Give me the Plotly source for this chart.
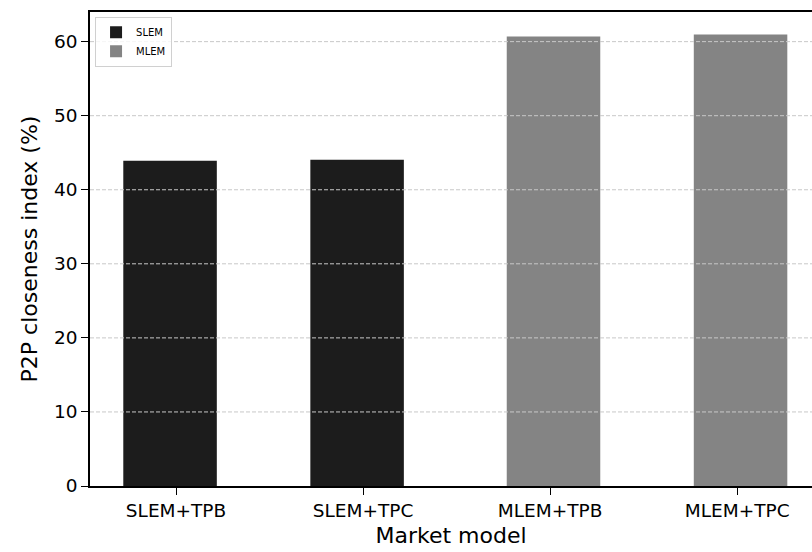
import plotly.graph_objects as go

slem_labels = ["SLEM+TPB", "SLEM+TPC"]
slem_values = [43.9, 44.05]
mlem_labels = ["MLEM+TPB", "MLEM+TPC"]
mlem_values = [60.7, 60.95]
y_ticks = [0, 10, 20, 30, 40, 50, 60]

font = "DejaVu Sans"
fig = go.Figure()
fig.add_trace(go.Bar(x=slem_labels, y=slem_values, name="SLEM", width=0.5, offset=-0.282,
                     marker=dict(color="#1c1c1c", line=dict(width=0))))
fig.add_trace(go.Bar(x=mlem_labels, y=mlem_values, name="MLEM", width=0.5, offset=-0.232,
                     marker=dict(color="#848484", line=dict(width=0))))

for t in y_ticks[1:]:
    fig.add_shape(type="line", xref="paper", x0=0, x1=1, yref="y", y0=t, y1=t,
                  line=dict(color="#c8c8c8", width=1, dash="4px,2px"), layer="above")

fig.update_layout(
    width=812, height=552,
    margin=dict(l=90, r=0, t=12, b=66, autoexpand=False),
    plot_bgcolor="white", paper_bgcolor="white",
    barmode="overlay",
    font=dict(family=font, size=18.5, color="black"),
    legend=dict(x=0.007, y=0.99, xanchor="left", yanchor="top",
                bgcolor="rgba(255,255,255,0.8)", bordercolor="#d0d0d0", borderwidth=1,
                font=dict(size=10, family=font), itemwidth=30, tracegroupgap=0),
    xaxis=dict(range=[-0.46, 3.40], showline=True, linecolor="black", linewidth=1.5,
               mirror=True, ticks="outside", ticklen=7, tickcolor="black",
               automargin=False,
               title=dict(text="Market model", standoff=8),
               categoryorder="array", categoryarray=slem_labels + mlem_labels),
    yaxis=dict(range=[0, 64.0], tickvals=y_ticks, showgrid=False, zeroline=False,
               showline=True, linecolor="black", linewidth=1.5, mirror=False,
               ticks="outside", ticklen=7, tickcolor="black", automargin=False,
               title=dict(text="P2P closeness index (%)", standoff=10)),
)
fig.write_html("out.html", config={"displayModeBar": False},
               post_script="document.body.style.margin='0';document.body.style.overflow='hidden';")
